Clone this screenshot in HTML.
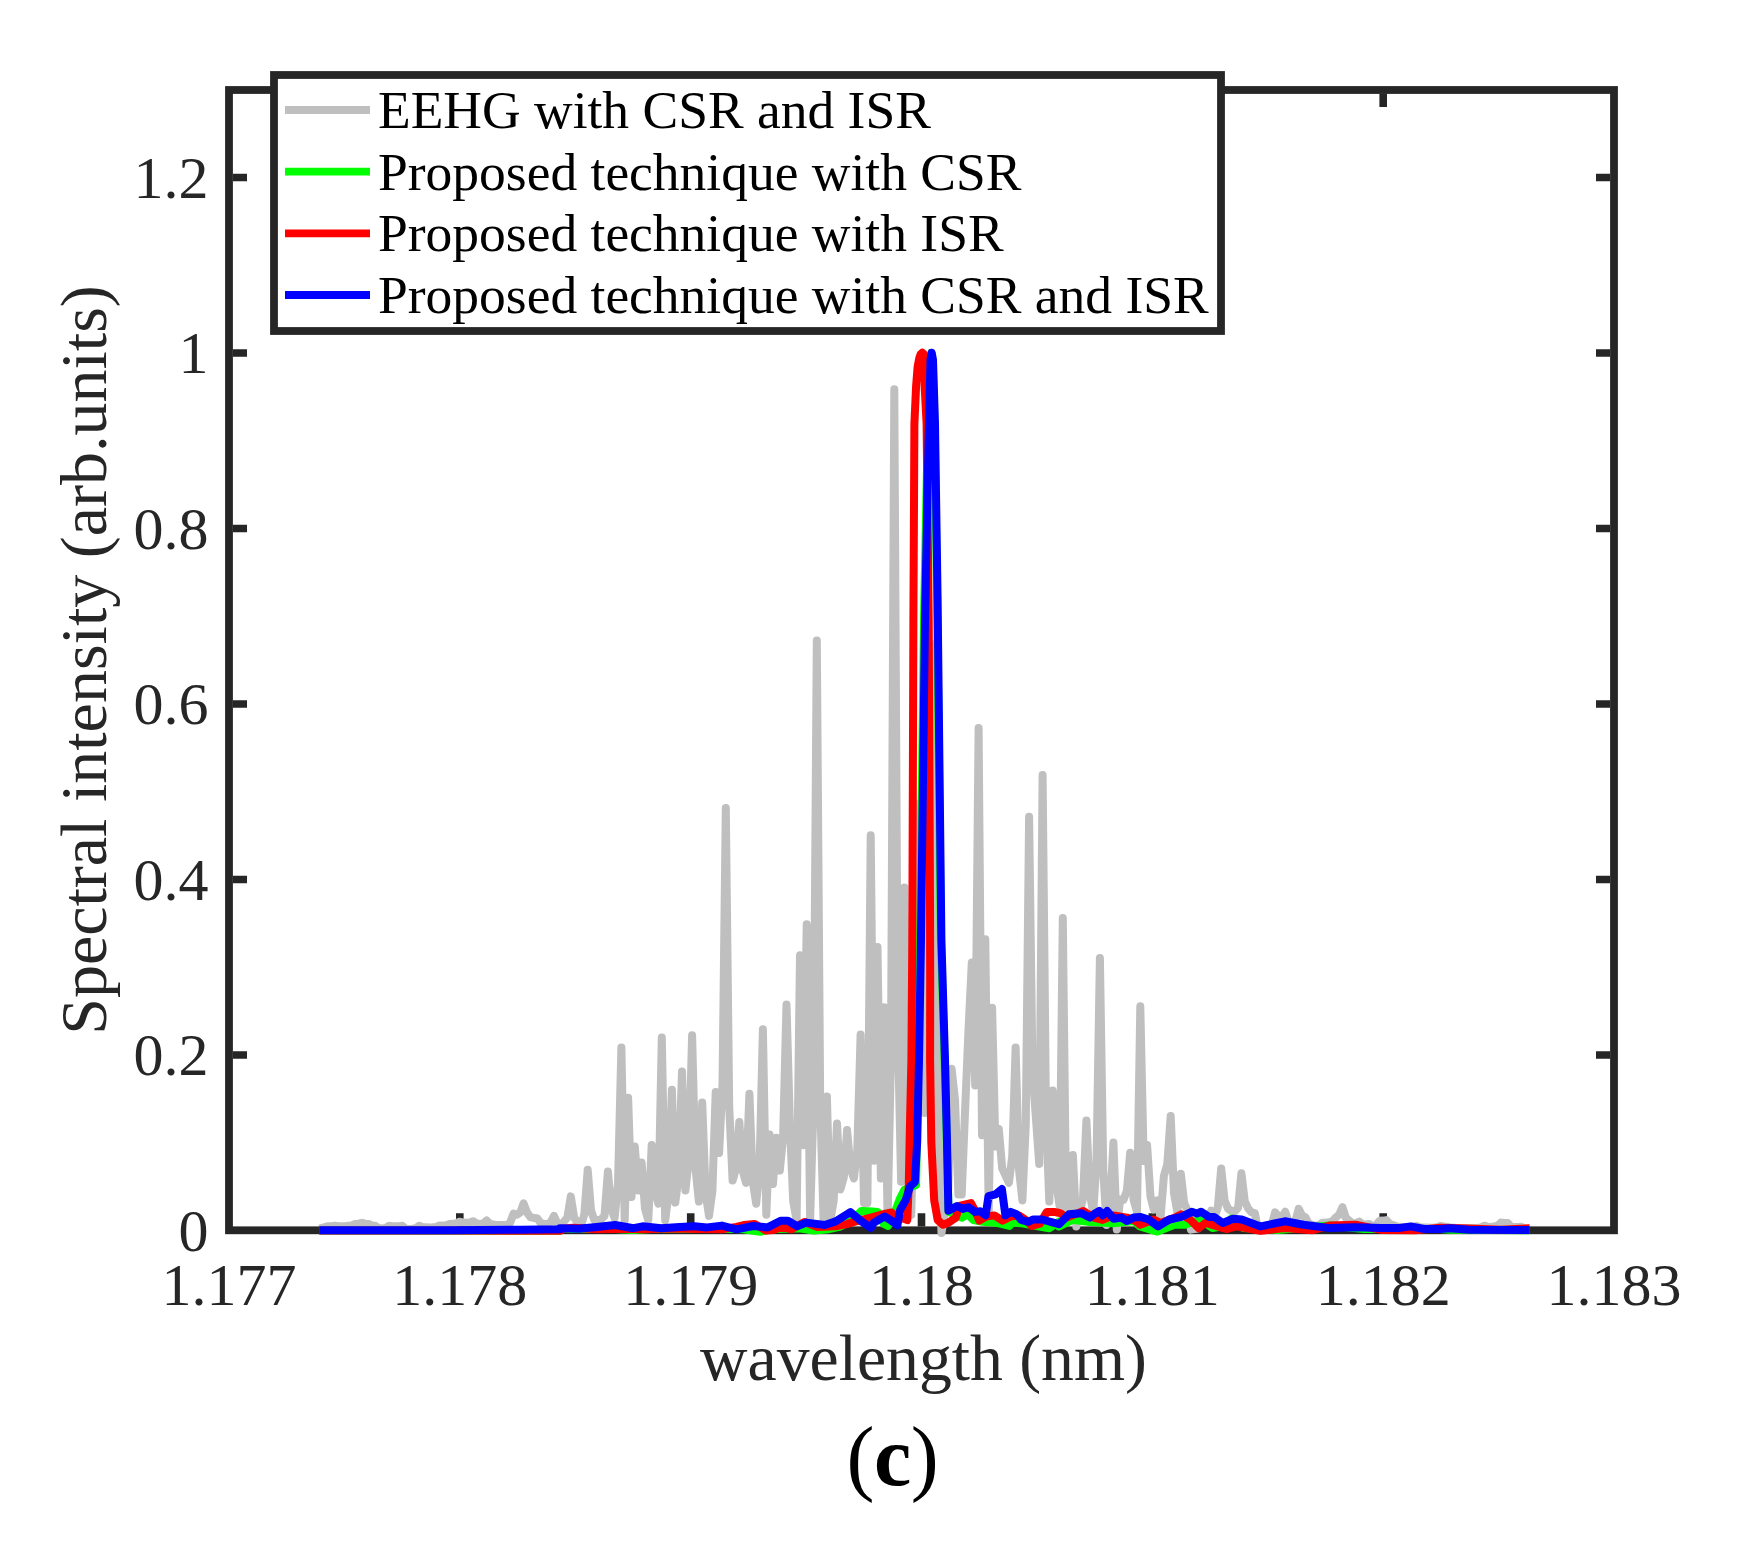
<!DOCTYPE html>
<html lang="en"><head><meta charset="utf-8"><title>Spectral intensity (c)</title>
<style>html,body{margin:0;padding:0;background:#fff}body{width:1741px;height:1541px;overflow:hidden}</style></head>
<body>
<svg width="1741" height="1541" viewBox="0 0 1741 1541" style="display:block">
<rect width="1741" height="1541" fill="#fff"/>
<path d="M459.8 1226.5 v-13.2 M459.8 93.5 v13.5 M690.7 1226.5 v-13.2 M690.7 93.5 v13.5 M921.5 1226.5 v-13.2 M921.5 93.5 v13.5 M1152.3 1226.5 v-13.2 M1152.3 93.5 v13.5 M1383.2 1226.5 v-13.2 M1383.2 93.5 v13.5 M233 1055.0 h14 M1610 1055.0 h-14 M233 879.5 h14 M1610 879.5 h-14 M233 704.0 h14 M1610 704.0 h-14 M233 528.5 h14 M1610 528.5 h-14 M233 353.0 h14 M1610 353.0 h-14 M233 177.5 h14 M1610 177.5 h-14" stroke="#262626" stroke-width="7.6" fill="none"/>
<rect x="229" y="90" width="1385" height="1140.3" fill="none" stroke="#262626" stroke-width="7.8"/>
<g fill="none" stroke-width="8" stroke-linejoin="round" stroke-linecap="butt">
<path d="M319.4 1228.5 L328.2 1226.2 L331.5 1226.2 L334.9 1225.8 L338.3 1226.2 L341.6 1226.2 L345.0 1226.2 L348.4 1225.8 L351.8 1225.5 L355.1 1224.0 L358.5 1223.7 L361.9 1222.8 L365.2 1223.7 L368.6 1224.0 L372.0 1225.5 L375.3 1225.8 L378.7 1228.0 L382.1 1228.5 L385.5 1228.0 L388.8 1225.8 L392.2 1226.2 L395.6 1226.2 L398.9 1226.2 L402.3 1225.8 L405.7 1228.6 L409.1 1229.2 L412.4 1228.8 L415.8 1228.3 L419.2 1225.8 L422.5 1227.0 L425.9 1227.2 L429.3 1227.4 L432.6 1227.2 L436.0 1226.9 L439.4 1225.6 L442.8 1225.6 L446.1 1225.2 L449.5 1224.0 L452.9 1223.7 L456.2 1223.4 L459.6 1221.7 L463.0 1222.6 L466.3 1222.8 L469.7 1222.5 L473.1 1221.2 L476.4 1223.4 L479.8 1224.0 L483.2 1223.3 L486.6 1220.5 L489.9 1223.9 L493.3 1224.5 L496.7 1225.1 L500.0 1225.1 L503.4 1225.1 L506.8 1225.1 L510.1 1222.8 L513.5 1213.6 L516.9 1214.8 L520.3 1212.5 L523.6 1203.3 L527.0 1212.5 L530.4 1217.1 L533.7 1218.0 L537.1 1218.2 L540.5 1222.8 L543.9 1223.8 L547.2 1224.0 L550.6 1222.4 L554.0 1215.9 L557.3 1223.3 L560.7 1225.1 L564.1 1221.3 L567.4 1217.5 L570.8 1196.4 L574.2 1218.0 L577.5 1221.9 L580.9 1225.8 L584.3 1214.6 L587.7 1169.8 L591.0 1210.2 L594.4 1220.3 L597.8 1220.1 L601.1 1219.4 L604.5 1215.9 L607.9 1171.4 L611.2 1208.7 L614.6 1218.1 L618.0 1183.9 L621.4 1047.4 L624.7 1220.3 L628.1 1097.7 L631.5 1197.1 L634.8 1146.6 L638.2 1190.5 L641.6 1162.5 L645.0 1208.7 L648.3 1220.3 L651.7 1144.9 L655.1 1192.0 L658.4 1203.7 L661.8 1037.5 L665.2 1220.3 L668.5 1194.2 L671.9 1089.7 L675.3 1202.6 L678.6 1176.4 L682.0 1071.6 L685.4 1190.5 L688.8 1159.4 L692.1 1035.3 L695.5 1168.3 L698.9 1201.5 L702.2 1102.5 L705.6 1193.2 L709.0 1215.9 L712.4 1191.1 L715.7 1091.9 L719.1 1153.0 L722.5 1084.0 L725.8 808.0 L729.2 1106.0 L732.6 1180.6 L735.9 1168.8 L739.3 1121.9 L742.7 1170.6 L746.0 1182.8 L749.4 1093.7 L752.8 1181.7 L756.2 1203.7 L759.5 1168.8 L762.9 1029.3 L766.3 1214.8 L769.6 1134.5 L773.0 1183.9 L776.4 1137.8 L779.8 1170.6 L783.1 1137.4 L786.5 1004.4 L789.9 1125.0 L793.2 1201.2 L796.6 1220.3 L800.0 955.2 L803.3 1145.3 L806.7 924.3 L810.1 1220.3 L813.5 1104.3 L816.8 640.4 L820.2 1104.3 L823.6 1220.3 L826.9 1096.4 L830.3 1220.3 L833.7 1200.9 L837.0 1123.5 L840.4 1189.4 L843.8 1177.5 L847.1 1130.1 L850.5 1168.7 L853.9 1178.4 L857.3 1149.6 L860.6 1034.6 L864.0 1203.0 L867.4 1203.0 L870.7 835.2 L874.1 1160.7 L877.5 947.0 L880.9 1178.4 L884.2 1007.2 L887.6 1220.3 L891.0 1054.1 L894.3 389.2 L897.7 1023.2 L901.1 1181.7 L904.4 887.5 L907.8 1150.0 L911.2 1215.0 L914.5 1100.0 L917.9 804.0 L921.3 830.0 L924.7 1113.0 L928.0 830.0 L931.4 1000.0 L934.8 644.0 L938.1 1122.0 L941.5 1233.0 L944.9 1211.1 L948.2 1189.2 L951.6 1068.7 L955.0 1100.0 L958.4 1194.5 L961.7 1194.5 L965.1 1110.0 L968.5 1030.0 L971.8 962.5 L975.2 1085.5 L978.6 728.0 L982.0 1135.3 L985.3 939.3 L988.7 1213.6 L992.1 1007.7 L995.4 1146.4 L998.8 1129.0 L1002.2 1168.4 L1005.5 1175.6 L1008.9 1182.8 L1012.3 1155.7 L1015.6 1047.4 L1019.0 1169.8 L1022.4 1200.4 L1025.8 1123.7 L1029.1 816.7 L1032.5 1071.4 L1035.9 1117.7 L1039.2 1164.0 L1042.6 775.0 L1046.0 1116.3 L1049.3 1201.6 L1052.7 1090.4 L1056.1 1182.5 L1059.5 1205.5 L1062.8 918.0 L1066.2 1217.2 L1069.6 1204.8 L1072.9 1155.1 L1076.3 1226.5 L1079.7 1212.4 L1083.0 1198.3 L1086.4 1120.5 L1089.8 1194.1 L1093.2 1212.5 L1096.5 1161.6 L1099.9 958.0 L1103.3 1171.6 L1106.6 1225.0 L1110.0 1208.5 L1113.4 1142.6 L1116.8 1229.6 L1120.1 1199.5 L1123.5 1200.0 L1126.9 1190.6 L1130.2 1152.8 L1133.6 1199.9 L1137.0 1211.7 L1140.3 1006.3 L1143.7 1161.1 L1147.1 1145.0 L1150.5 1196.5 L1153.8 1209.4 L1157.2 1200.3 L1160.6 1217.2 L1163.9 1176.0 L1167.3 1164.0 L1170.7 1116.1 L1174.0 1193.2 L1177.4 1212.5 L1180.8 1173.8 L1184.2 1203.0 L1187.5 1210.3 L1190.9 1229.6 L1194.3 1229.1 L1197.6 1228.5 L1201.0 1225.3 L1204.4 1223.3 L1207.7 1221.3 L1211.1 1210.6 L1214.5 1217.3 L1217.8 1207.5 L1221.2 1168.4 L1224.6 1200.6 L1228.0 1208.6 L1231.3 1210.9 L1234.7 1211.5 L1238.1 1207.8 L1241.4 1173.2 L1244.8 1201.6 L1248.2 1208.6 L1251.5 1212.3 L1254.9 1213.2 L1258.3 1230.7 L1261.7 1230.3 L1265.0 1229.9 L1268.4 1227.6 L1271.8 1224.5 L1275.1 1212.3 L1278.5 1216.3 L1281.9 1217.3 L1285.2 1211.8 L1288.6 1221.7 L1292.0 1224.1 L1295.4 1221.1 L1298.7 1208.9 L1302.1 1215.6 L1305.5 1217.3 L1308.8 1223.6 L1312.2 1224.7 L1315.6 1225.9 L1319.0 1225.2 L1322.3 1222.7 L1325.7 1222.6 L1329.1 1222.4 L1332.4 1221.4 L1335.8 1217.5 L1339.2 1214.7 L1342.5 1207.2 L1345.9 1218.0 L1349.3 1220.7 L1352.7 1223.5 L1356.0 1223.1 L1359.4 1221.6 L1362.8 1224.4 L1366.1 1224.3 L1369.5 1224.1 L1372.9 1226.1 L1376.2 1225.0 L1379.6 1220.7 L1383.0 1220.6 L1386.3 1220.1 L1389.7 1224.0 L1393.1 1225.0 L1396.5 1226.5 L1399.8 1226.7 L1403.2 1227.0 L1406.6 1226.9 L1409.9 1226.8 L1413.3 1226.6 L1416.7 1225.9 L1420.0 1227.2 L1423.4 1227.4 L1426.8 1227.6 L1430.2 1227.8 L1433.5 1227.6 L1436.9 1227.3 L1440.3 1225.9 L1443.6 1226.5 L1447.0 1226.7 L1450.4 1227.7 L1453.8 1227.8 L1457.1 1228.0 L1460.5 1228.0 L1463.9 1228.0 L1467.2 1228.0 L1470.6 1228.0 L1474.0 1228.0 L1477.3 1228.0 L1480.7 1227.5 L1484.1 1225.7 L1487.5 1226.7 L1490.8 1227.0 L1494.2 1226.4 L1497.6 1225.8 L1500.9 1222.6 L1504.3 1222.9 L1507.7 1223.0 L1511.0 1226.7 L1514.4 1227.0 L1517.8 1226.9 L1521.2 1226.7 L1524.5 1228.9 L1527.9 1229.5" stroke="#bfbfbf"/>
<path d="M319.3 1230.5 L560.0 1230.8 L560.0 1228.9 L615.1 1228.9 L633.5 1230.0 L651.9 1228.9 L725.4 1228.7 L743.8 1229.3 L753.0 1230.7 L760.4 1231.8 L771.4 1229.3 L799.0 1228.2 L813.7 1230.6 L826.5 1229.6 L839.4 1226.9 L850.4 1221.4 L861.5 1210.9 L872.5 1211.6 L877.5 1211.9 L881.0 1217.7 L883.4 1223.6 L888.0 1225.9 L895.0 1211.9 L899.7 1199.0 L904.4 1189.7 L911.4 1186.8 L916.1 1185.0 L916.8 1141.8 L918.2 1060.0 L920.0 940.0 L924.0 620.0 L927.5 443.0 L929.8 360.0 L931.2 353.0 L932.5 360.0 L934.5 424.0 L937.1 600.0 L940.9 940.0 L944.6 1060.0 L946.7 1141.8 L948.6 1211.9 L961.6 1217.7 L967.5 1214.2 L973.3 1220.0 L982.7 1221.8 L992.0 1222.4 L1000.2 1223.6 L1009.5 1225.9 L1011.9 1222.4 L1023.6 1223.6 L1042.2 1227.1 L1049.3 1228.2 L1058.6 1221.8 L1059.1 1226.5 L1072.4 1219.9 L1090.0 1222.1 L1093.8 1222.1 L1113.7 1223.2 L1133.5 1221.0 L1140.0 1226.4 L1157.2 1231.6 L1174.5 1224.7 L1184.8 1224.7 L1200.3 1219.5 L1212.4 1228.1 L1222.7 1226.4 L1231.3 1218.7 L1243.4 1228.1 L1277.9 1229.9 L1329.6 1225.6 L1364.0 1229.0 L1440.0 1229.0 L1450.6 1229.7 L1529.6 1230.2" stroke="#00ff00"/>
<path d="M319.3 1230.4 L450.0 1230.5 L560.0 1230.8 L560.0 1228.9 L572.9 1227.8 L596.8 1229.3 L615.1 1228.7 L642.7 1229.3 L670.3 1228.5 L697.9 1228.9 L721.8 1229.3 L736.5 1226.9 L743.8 1225.0 L754.9 1224.1 L765.9 1230.6 L773.2 1230.0 L782.4 1226.9 L791.6 1229.3 L804.5 1221.9 L817.4 1226.9 L835.7 1226.3 L846.8 1224.1 L854.1 1221.9 L870.7 1217.7 L883.4 1214.2 L891.5 1212.5 L897.4 1217.7 L904.4 1218.9 L907.3 1220.0 L908.8 1182.7 L909.6 1141.8 L911.4 1060.0 L912.3 940.0 L913.4 620.0 L914.4 424.0 L916.1 386.0 L917.6 367.0 L919.3 358.0 L920.6 354.2 L922.3 352.7 L923.8 354.0 L924.3 362.0 L924.6 386.0 L926.6 424.0 L928.7 620.0 L929.2 730.0 L930.0 900.0 L930.2 980.0 L930.1 1060.0 L931.3 1141.8 L934.2 1200.2 L937.7 1220.0 L942.9 1224.7 L948.8 1222.4 L955.8 1217.7 L959.3 1206.0 L971.0 1203.1 L975.7 1211.9 L979.2 1220.6 L986.2 1216.5 L994.3 1215.4 L1002.5 1220.6 L1010.7 1216.5 L1018.9 1215.4 L1025.9 1220.0 L1031.7 1225.9 L1039.9 1223.6 L1046.9 1211.9 L1053.9 1211.9 L1058.6 1212.8 L1060.2 1213.2 L1066.8 1217.6 L1072.4 1215.4 L1083.4 1211.0 L1090.0 1215.4 L1093.8 1217.6 L1102.6 1219.9 L1113.7 1215.4 L1126.9 1217.6 L1135.7 1221.0 L1140.0 1224.7 L1153.8 1219.5 L1160.7 1223.0 L1174.5 1217.8 L1181.4 1214.4 L1190.0 1219.5 L1198.6 1228.1 L1205.5 1223.0 L1217.5 1226.4 L1226.2 1229.0 L1236.5 1226.4 L1260.6 1230.7 L1284.8 1228.1 L1312.3 1230.2 L1329.6 1225.6 L1355.4 1224.7 L1381.3 1229.9 L1415.7 1230.2 L1440.0 1227.8 L1448.3 1227.9 L1459.8 1228.3 L1501.2 1229.7 L1529.6 1228.3" stroke="#ff0000"/>
<path d="M319.3 1230.2 L450.0 1230.2 L520.0 1229.8 L560.0 1229.3 L560.0 1228.2 L578.4 1228.7 L596.8 1226.9 L615.1 1225.0 L633.5 1228.2 L642.7 1226.3 L661.1 1228.2 L679.5 1226.9 L694.2 1226.3 L707.1 1227.4 L721.8 1225.6 L736.5 1229.3 L753.0 1226.0 L767.7 1227.4 L780.6 1220.8 L787.9 1220.8 L797.1 1226.3 L806.3 1222.6 L824.7 1225.0 L835.7 1221.4 L850.4 1212.2 L861.5 1221.4 L870.7 1227.8 L874.0 1222.4 L884.5 1216.5 L890.4 1220.0 L897.4 1225.3 L900.3 1209.5 L905.6 1200.2 L910.2 1186.2 L914.9 1182.1 L917.2 1141.8 L919.0 1060.0 L921.0 940.0 L925.0 620.0 L928.5 443.0 L930.5 360.0 L931.7 352.7 L933.0 360.0 L935.0 424.0 L937.6 600.0 L941.4 940.0 L945.0 1060.0 L947.0 1141.8 L948.4 1210.7 L957.0 1206.0 L962.8 1208.9 L968.6 1207.2 L975.1 1211.9 L980.3 1211.3 L985.6 1215.4 L988.5 1196.1 L995.5 1194.3 L1001.9 1189.1 L1005.4 1215.4 L1010.7 1211.9 L1016.5 1214.2 L1021.2 1220.0 L1028.2 1221.8 L1032.9 1219.5 L1042.2 1219.5 L1058.6 1224.1 L1059.1 1224.3 L1069.0 1214.3 L1081.2 1213.2 L1090.0 1217.6 L1093.8 1214.3 L1099.3 1211.0 L1102.6 1215.4 L1107.1 1211.0 L1113.7 1218.8 L1121.4 1217.6 L1126.9 1221.0 L1133.5 1217.6 L1140.0 1216.9 L1148.6 1219.5 L1158.1 1226.4 L1169.3 1219.5 L1181.4 1216.9 L1191.7 1211.8 L1196.9 1213.5 L1201.2 1211.8 L1208.9 1216.9 L1214.1 1216.9 L1222.7 1223.0 L1233.1 1218.7 L1241.7 1219.5 L1260.6 1226.4 L1284.8 1221.3 L1303.7 1224.7 L1329.6 1228.1 L1355.4 1227.3 L1381.3 1228.1 L1398.5 1228.1 L1410.5 1226.4 L1424.3 1229.0 L1440.0 1229.0 L1450.6 1228.3 L1469.0 1229.7 L1529.6 1229.9" stroke="#0000ff"/>
</g>
<g font-family="'Liberation Serif', serif" font-size="60" fill="#262626">
<text x="229.0" y="1305.2" text-anchor="middle">1.177</text>
<text x="459.8" y="1305.2" text-anchor="middle">1.178</text>
<text x="690.7" y="1305.2" text-anchor="middle">1.179</text>
<text x="921.5" y="1305.2" text-anchor="middle">1.18</text>
<text x="1152.3" y="1305.2" text-anchor="middle">1.181</text>
<text x="1383.2" y="1305.2" text-anchor="middle">1.182</text>
<text x="1614.0" y="1305.2" text-anchor="middle">1.183</text>
<text x="208.5" y="1250.5" text-anchor="end">0</text>
<text x="208.5" y="1075.0" text-anchor="end">0.2</text>
<text x="208.5" y="899.5" text-anchor="end">0.4</text>
<text x="208.5" y="724.0" text-anchor="end">0.6</text>
<text x="208.5" y="548.5" text-anchor="end">0.8</text>
<text x="208.5" y="373.0" text-anchor="end">1</text>
<text x="208.5" y="197.5" text-anchor="end">1.2</text>
</g>
<g font-family="'Liberation Serif', serif" font-size="66" fill="#262626">
<text x="923.5" y="1380" text-anchor="middle" font-size="65.7">wavelength (nm)</text>
<text transform="translate(106.4 660) rotate(-90)" text-anchor="middle">Spectral intensity (arb.units)</text>
</g>
<rect x="274" y="75" width="947" height="256" fill="#fff" stroke="#262626" stroke-width="7.8"/>
<g font-family="'Liberation Serif', serif" font-size="53.5" fill="#000">
<path d="M285 110.0 H370" stroke="#bfbfbf" stroke-width="7.8" fill="none"/>
<text x="378" y="128.0">EEHG with CSR and ISR</text>
<path d="M285 171.6 H370" stroke="#00ff00" stroke-width="7.8" fill="none"/>
<text x="378" y="189.6">Proposed technique with CSR</text>
<path d="M285 233.4 H370" stroke="#ff0000" stroke-width="7.8" fill="none"/>
<text x="378" y="251.4">Proposed technique with ISR</text>
<path d="M285 295.0 H370" stroke="#0000ff" stroke-width="7.8" fill="none"/>
<text x="378" y="313.0">Proposed technique with CSR and ISR</text>
</g>
<text x="892" y="1485" text-anchor="middle" font-family="'Liberation Serif', serif" font-size="84" fill="#000"><tspan dx="0.6">(</tspan><tspan font-weight="bold" dx="-0.5">c</tspan><tspan dx="-0.6">)</tspan></text>
</svg>
</body></html>
